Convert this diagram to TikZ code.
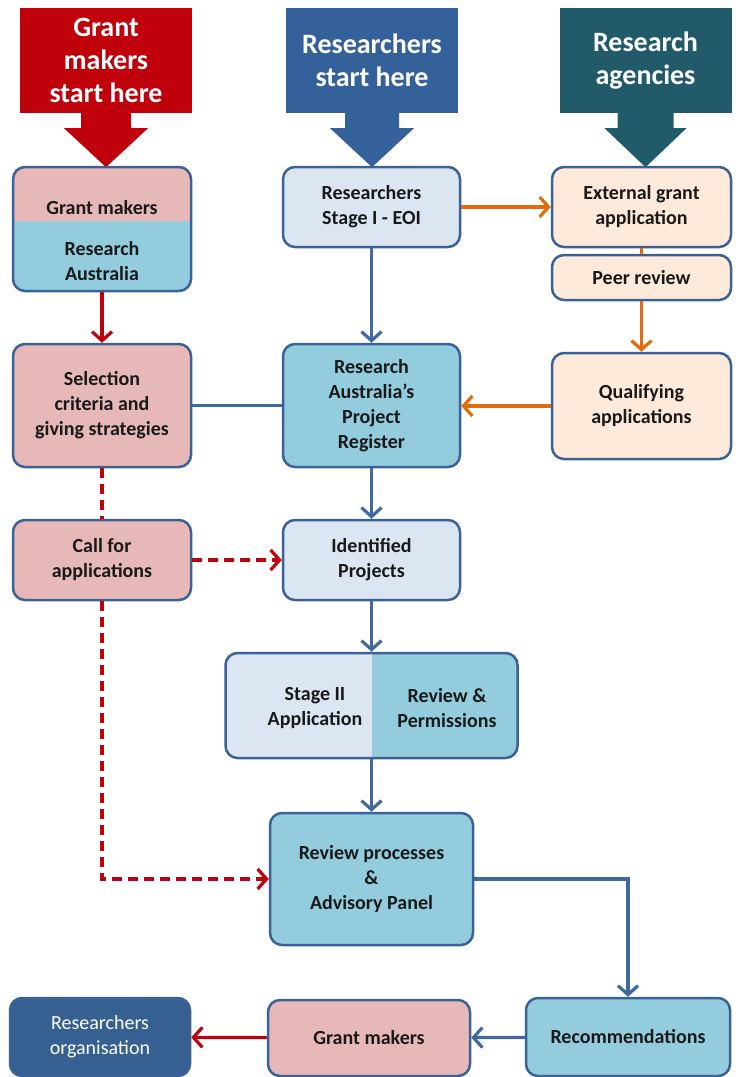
\documentclass[tikz,border=0pt]{standalone}
\usepackage{fontspec}
\setmainfont{Carlito}
\usetikzlibrary{arrows.meta}

\definecolor{redc}{HTML}{C0000B}
\definecolor{bluec}{HTML}{35619B}
\definecolor{tealc}{HTML}{215B69}
\definecolor{bord}{HTML}{3B6296}
\definecolor{pinkc}{HTML}{E6B9B8}
\definecolor{lblue}{HTML}{93CDDD}
\definecolor{pale}{HTML}{DCE6F2}
\definecolor{peach}{HTML}{FDEADA}
\definecolor{dblue}{HTML}{376092}
\definecolor{arrblue}{HTML}{3E6AA0}
\definecolor{arrorange}{HTML}{E36C0A}

\begin{document}
\begin{tikzpicture}[x=1pt,y=-1pt]
\tikzset{box/.style={draw=bord, line width=2.5pt, rounded corners=12pt, align=center, inner sep=0pt,
  font=\fontsize{20}{25}\selectfont\bfseries, text=black!90},
  lbl/.style={align=center, inner sep=0pt, font=\fontsize{20}{25}\selectfont\bfseries, text=black!90},
  head/.style={align=center, inner sep=0pt, text=white, minimum width=172pt, minimum height=105pt,
  font=\fontsize{28}{33}\selectfont\bfseries},
  arr/.style={-{Straight Barb[length=9pt,width=20pt]}},
  redline/.style={draw=redc, line width=3.2pt},
  blueline/.style={draw=arrblue, line width=3.2pt},
  orline/.style={draw=arrorange, line width=3.2pt},
  dash16/.style={dash pattern=on 10pt off 6pt}}
\useasboundingbox (0,0) rectangle (738,1077);
% start here
\node[head, fill=redc] (T1) at (106,60.5) {Grant\\makers\\start here};
\fill[redc] (T1.south) ++(-25,-1) -- ++(0,16) -- ++(-17,0) -- ++(42,39) -- ++(42,-39) -- ++(-17,0) -- ++(0,-16) -- cycle;
\node[head, fill=bluec] (T2) at (372,60.5) {Researchers\\start here};
\fill[bluec] (T2.south) ++(-27,-1) -- ++(0,16) -- ++(-15,0) -- ++(42,39) -- ++(42,-39) -- ++(-15,0) -- ++(0,-16) -- cycle;
\node[head, fill=tealc] (T3) at (645.5,60.5) {Research\\agencies};
\fill[tealc] (T3.south) ++(-28,-1) -- ++(0,16) -- ++(-13,0) -- ++(41,39) -- ++(41,-39) -- ++(-13,0) -- ++(0,-16) -- cycle;
% boxes
\node[box, fill=lblue, minimum width=178pt, minimum height=124pt,
  path picture={\fill[pinkc, sharp corners] (path picture bounding box.north west) rectangle ([yshift=-54pt]path picture bounding box.north east);}] (GR) at (102,229) {};
\node[lbl] (GRa) at (102,208) {Grant makers};
\node[lbl] (GRb) at (102,261) {Research\\Australia};
\node[box, fill=pale, minimum width=177pt, minimum height=80pt] (EOI) at (371.5,207) {Researchers\\Stage I - EOI};
\node[box, fill=peach, minimum width=179pt, minimum height=80pt] (EXT) at (641.5,207) {External grant\\application};
\node[box, fill=peach, minimum width=179pt, minimum height=45pt] (PEER) at (641.5,277.5) {Peer review};
\node[box, fill=pinkc, minimum width=178pt, minimum height=123pt] (SEL) at (102,405.5) {Selection\\criteria and\\giving strategies};
\node[box, fill=lblue, minimum width=177pt, minimum height=123pt] (REG) at (371.5,405.5) {Research\\Australia's\\Project\\Register};
\node[box, fill=peach, minimum width=179pt, minimum height=106pt] (QUAL) at (641.5,406) {Qualifying\\applications};
\node[box, fill=pinkc, minimum width=178pt, minimum height=80pt] (CALL) at (102,560) {Call for\\applications};
\node[box, fill=pale, minimum width=177pt, minimum height=80pt] (IDP) at (371.5,560) {Identified\\Projects};
\node[box, fill=pale, minimum width=292pt, minimum height=105pt,
  path picture={\fill[lblue, sharp corners] (path picture bounding box.north) rectangle (path picture bounding box.south east);}] (ST2) at (371.5,705.5) {};
\node[lbl] (ST2a) at (315,708) {Stage II\\Application};
\node[lbl] (ST2b) at (447,708) {Review \&\\Permissions};
\node[box, fill=lblue, minimum width=203pt, minimum height=132pt] (RP) at (371.5,879) {Review processes\\\&\\Advisory Panel};
\node[box, fill=dblue, text=white, font=\fontsize{20}{25}\selectfont, minimum width=180pt, minimum height=78pt] (RO) at (100,1037) {Researchers\\organisation};
\node[box, fill=pinkc, minimum width=202pt, minimum height=76pt] (GMB) at (369,1038) {Grant makers};
\node[box, fill=lblue, minimum width=204pt, minimum height=78pt] (REC) at (628,1037) {Recommendations};
% connectors
\draw[redline, arr] (GR) -- (SEL);
\draw[blueline, arr] (EOI) -- (REG);
\draw[orline, arr] (EOI) -- (EXT);
\draw[orline] (EXT) -- (PEER);
\draw[orline, arr] (PEER) -- (QUAL);
\draw[orline, arr] (QUAL.west) -- (QUAL.west -| REG.east);
\draw[blueline] (SEL) -- (REG);
\draw[blueline, arr] (REG) -- (IDP);
\draw[redline, dash16] (SEL) -- (CALL);
\draw[redline, dash16, arr] (CALL) -- (IDP);
\draw[redline, dash16, arr] (CALL) |- (RP);
\draw[blueline, arr] (IDP) -- (ST2);
\draw[blueline, arr] (ST2) -- (RP);
\draw[blueline, arr] (RP) -| (REC);
\draw[blueline, arr] (REC) -- (GMB);
\draw[redline, arr] (GMB) -- (RO);
\end{tikzpicture}
\end{document}
